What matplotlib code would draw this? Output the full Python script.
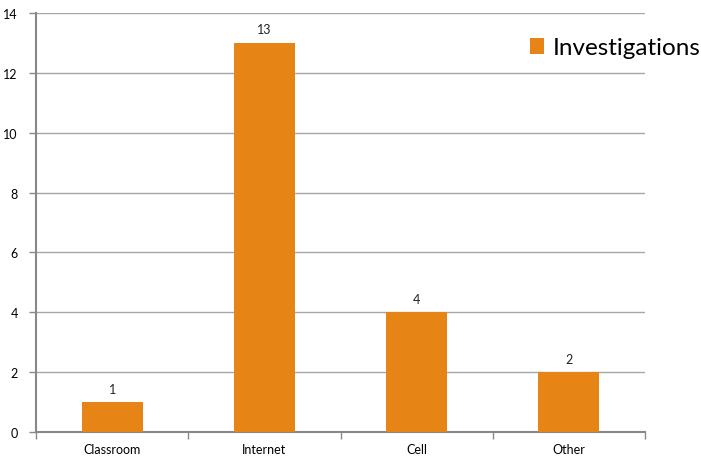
import matplotlib.pyplot as plt
import numpy as np

categories = ["Classroom", "Internet", "Cell", "Other"]
investigations = [1, 13, 4, 2]
y_ticks = [0, 2, 4, 6, 8, 10, 12, 14]

plt.rcParams["font.family"] = ["Lato", "DejaVu Sans"]

fig = plt.figure(figsize=(7.01, 4.60), dpi=100)
ax = fig.add_axes([36 / 701, 27 / 460, 609 / 701, 419 / 460])

x = np.arange(len(categories))
bars = ax.bar(x, investigations, width=0.4, color="#E68415", label="Investigations", zorder=3)
for xi, v in zip(x, investigations):
    ax.text(xi, v + 0.25, str(v), ha="center", va="bottom", fontsize=9, color="#222222")

ax.set_xlim(-0.5, len(categories) - 0.5)
ax.set_ylim(0, 14)
ax.set_yticks(y_ticks)
ax.set_xticks(x)
ax.set_xticklabels(categories, fontsize=9)
ax.set_xticks(np.arange(-0.5, len(categories)), minor=True)
ax.tick_params(axis="x", which="major", length=0, pad=8)
ax.tick_params(axis="x", which="minor", length=5, color="#888888", width=1)
ax.tick_params(axis="y", length=5, color="#888888", width=1, labelsize=9, pad=8)
ax.grid(axis="y", color="#A6A6A6", linewidth=1, zorder=0)

for side in ["top", "right"]:
    ax.spines[side].set_visible(False)
for side in ["left", "bottom"]:
    ax.spines[side].set_color("#888888")
    ax.spines[side].set_linewidth(1.5)

ax.legend(loc="upper left", bbox_to_anchor=(0.795, 0.965), frameon=False,
          fontsize=17.5, handlelength=0.6, handleheight=0.6, handletextpad=0.35,
          borderaxespad=0)

fig.savefig("out.png", dpi=100)
